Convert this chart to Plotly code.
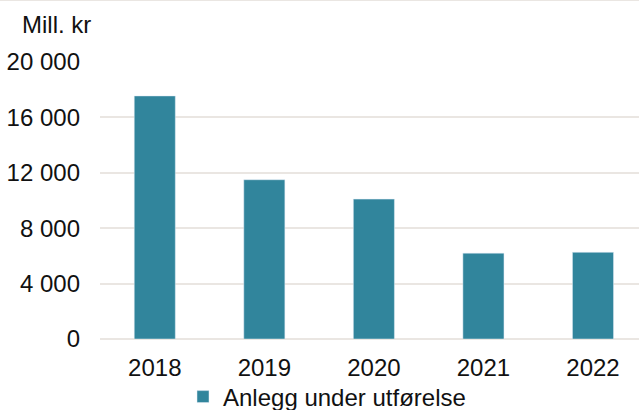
import plotly.graph_objects as go

years = ["2018", "2019", "2020", "2021", "2022"]
values = [17550, 11500, 10100, 6200, 6260]
series_name = "Anlegg under utførelse"
y_ticks = [0, 4000, 8000, 12000, 16000, 20000]
y_tick_labels = ["0", "4 000", "8 000", "12 000", "16 000", "20 000"]

BAR_COLOR = "#31859C"
GRID_COLOR = "#EAE6E2"
FONT = "Liberation Sans, Arial, sans-serif"

fig = go.Figure(
    go.Bar(
        x=years,
        y=values,
        name=series_name,
        marker=dict(color=BAR_COLOR),
        width=0.375,
        showlegend=True,
    )
)

fig.update_layout(
    width=639,
    height=410,
    margin=dict(l=100, r=0, t=62, b=71, autoexpand=False),
    paper_bgcolor="white",
    plot_bgcolor="white",
    font=dict(family=FONT, size=24, color="#111111"),
    xaxis=dict(
        range=[-0.5, 4.42],
        showgrid=False,
        showline=False,
        ticks="",
        ticklabelstandoff=12,
    ),
    yaxis=dict(
        range=[0, 20000],
        tickvals=y_ticks,
        ticktext=y_tick_labels,
        showgrid=True,
        gridcolor=GRID_COLOR,
        gridwidth=2,
        zeroline=True,
        zerolinecolor=GRID_COLOR,
        zerolinewidth=2,
        ticks="",
        ticklabelstandoff=19,
    ),
    legend=dict(
        orientation="h",
        x=(183 - 100) / 539,
        xanchor="left",
        y=-(397 - 339) / 277,
        yanchor="middle",
        bgcolor="rgba(0,0,0,0)",
        font=dict(family=FONT, size=24),
    ),
    annotations=[
        dict(
            text="Mill. kr",
            xref="paper",
            yref="paper",
            x=(20 - 100) / 539,
            y=1 + (62 - 25) / 277,
            xanchor="left",
            yanchor="middle",
            showarrow=False,
            font=dict(family=FONT, size=24),
        )
    ],
    shapes=[
        dict(
            type="line",
            xref="paper",
            yref="paper",
            x0=-0.2,
            x1=1.0,
            y0=1.222,
            y1=1.222,
            line=dict(color=GRID_COLOR, width=1),
        )
    ],
)

fig.write_html(
    "out.html",
    config={"displayModeBar": False},
    post_script="document.body.style.margin='0px';",
)
